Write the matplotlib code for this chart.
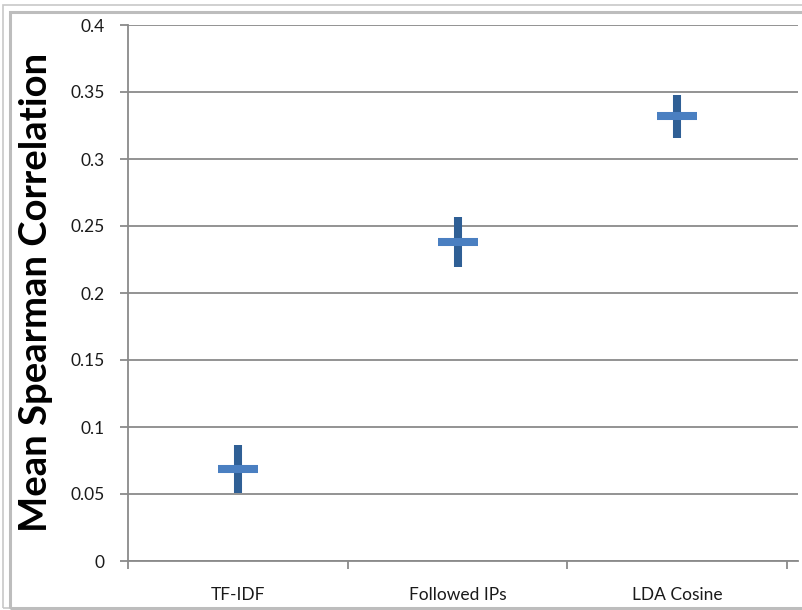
import matplotlib
matplotlib.use("Agg")
import matplotlib.pyplot as plt
from matplotlib.patches import Rectangle

categories = ["TF-IDF", "Followed IPs", "LDA Cosine"]
means = [0.0687, 0.238, 0.332]
errors = [0.018, 0.0187, 0.016]
yticks = [0, 0.05, 0.1, 0.15, 0.2, 0.25, 0.3, 0.35, 0.4]
ytick_labels = ["0", "0.05", "0.1", "0.15", "0.2", "0.25", "0.3", "0.35", "0.4"]

plt.rcParams['font.family'] = ['Lato', 'DejaVu Sans']

W, H = 803, 610
fig = plt.figure(figsize=(W / 100, H / 100), dpi=100)
fig.patch.set_facecolor("white")

# outer frame
fig.patches.append(Rectangle((3 / W, 2 / H), 1.2, (H - 7) / H, transform=fig.transFigure,
                             fill=False, ec="#c8c8c8", lw=1.2, zorder=0))
fig.patches.append(Rectangle((10 / W, 2 / H), 1.2, (H - 14) / H, transform=fig.transFigure,
                             fill=False, ec="#bdbdbd", lw=2.2, zorder=0))

ax = fig.add_axes([128 / W, (H - 561) / H, 670 / W, 536 / H])
x = list(range(1, len(categories) + 1))

gc = "#8a8a8a"
for s in ["top", "right"]:
    ax.spines[s].set_visible(False)
for s in ["left", "bottom"]:
    ax.spines[s].set_color(gc)
    ax.spines[s].set_linewidth(1.3)

ax.set_ylim(0, 0.4)
ax.set_xlim(0.5, 3.55)
ax.set_yticks(yticks)
ax.set_yticklabels(ytick_labels)
ax.yaxis.grid(True, color=gc, lw=1.3)
ax.set_axisbelow(True)

ax.set_xticks([0.5, 1.5, 2.5, 3.5])
ax.set_xticklabels([])
ax.set_xticks(x, minor=True)
ax.set_xticklabels(categories, minor=True)
ax.tick_params(axis="x", which="major", length=6, width=1.3, color=gc, direction="out")
ax.tick_params(axis="x", which="minor", length=0, pad=19, labelsize=12.5, labelcolor="#1a1a1a")
ax.tick_params(axis="y", length=6, width=1.3, color=gc, pad=11, labelsize=12.5, labelcolor="#1a1a1a")

ax.errorbar(x, means, yerr=errors, fmt="none", ecolor="#2f5f95", elinewidth=5.8,
            capsize=0, zorder=3)
ax.plot(x, means, linestyle="none", marker="_", markersize=29, markeredgewidth=5.8,
        color="#4a7fc1", zorder=4)

fig.text(36 / W, (H - 292) / H,
         "Mean Spearman Correlation", rotation=90, ha="center", va="center",
         fontsize=27.5, fontweight="bold", color="black")

fig.savefig("out.png", dpi=100)
